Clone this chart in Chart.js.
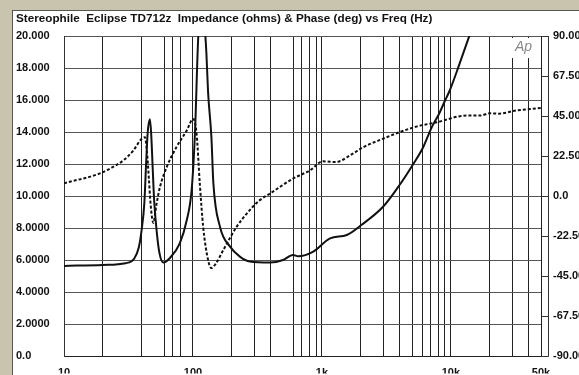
<!DOCTYPE html>
<html>
<head>
<meta charset="utf-8">
<script src="https://cdn.jsdelivr.net/npm/chart.js@4.4.1/dist/chart.umd.min.js"></script>
<style>
  html, body { margin: 0; padding: 0; background: #c8c4ae; }
  #wrap { position: relative; width: 579px; height: 375px; overflow: hidden; }
  #panel { position: absolute; left: 12px; top: 10px; width: 620px; height: 420px;
           background: #fff; border-left: 1px solid #555; border-top: 1px solid #555; }
  #meinChart { position: absolute; left: 0; top: 0; }
</style>
</head>
<body>
<div id="wrap">
  <div id="panel"></div>
  <canvas id="meinChart" width="579" height="375"></canvas>
</div>
<script>
// impedance (ohms), solid line
const impFreq = [10, 20, 30, 35, 38, 40, 42, 43.2, 44.5, 46.4, 47.5, 48.7, 50, 52.5, 55, 58.8,
  66, 79, 89.5, 97.7, 103.6, 110, 117, 124, 127, 131, 139, 144, 162, 194, 231, 276, 396,
  500, 597, 655, 857, 1156, 1560, 2020, 2980, 4000, 5100, 6100, 7100, 8050, 9000, 9800,
  11600, 13900, 16000, 20000];
const impOhms = [5.65, 5.71, 5.82, 6.1, 6.8, 7.9, 9.6, 11.8, 13.9, 14.8, 13.8, 11.8, 9.75, 7.7, 6.45, 5.86,
  6.13, 7.06, 8.5, 10.4, 13.9, 20.0, 22.0, 20.3, 19.0, 16.5, 13.7, 10.8, 8.1, 6.85, 6.23, 5.92, 5.86,
  6.02, 6.33, 6.25, 6.54, 7.37, 7.58, 8.2, 9.34, 10.7, 12.0, 13.06, 14.3, 15.1, 15.96, 16.6,
  18.2, 20.0, 21.3, 23.5];

// phase (deg), dotted line
const phaseFreq = [10, 18.8, 22.7, 28.8, 34.5, 40, 42.4, 44, 45.5, 47, 49.3, 52, 55.5, 62.6, 74.5,
  89.5, 100.4, 106.7, 113, 120, 131, 139, 150, 172, 218, 276, 330, 396, 597, 806, 1020, 1290,
  1650, 2100, 2980, 4000, 5400, 7800, 13200, 16800, 20000, 23600, 31900, 50000];
const phaseDeg = [7.3, 12.7, 15.5, 20.1, 25.7, 32.3, 33.2, 25, 10, -5, -15, -5, 5.2, 16.4, 27.6,
  36.9, 43.4, 35, 7.1, -17.2, -35.8, -40.4, -38, -30.2, -17.2, -7.8, -2.2, 1.5, 9.9, 14.5, 19.6, 19.2,
  22.9, 27.6, 32.3, 36, 39.1, 41.6, 45.3, 45.3, 46.6, 46.4, 48.1, 49.6];

// axes
const gridFreqs = [10, 20, 40, 60, 70, 80, 100, 200, 300, 400, 600, 700, 800, 900, 1000,
  2000, 3000, 4000, 5000, 6000, 7000, 8000, 9000, 10000, 20000, 30000, 40000, 50000];
const freqLabels = { 10: '10', 100: '100', 1000: '1k', 10000: '10k', 50000: '50k' };
const ohmLabels = ['0.0', '2.0000', '4.0000', '6.0000', '8.0000', '10.000', '12.000',
  '14.000', '16.000', '18.000', '20.000'];
const phaseTicks = [-90, -67.5, -45, -22.5, 0, 22.5, 45, 67.5, 90];
const phaseLabels = ['-90.00', '-67.50', '-45.00', '-22.50', '0.0', '22.50', '45.00', '67.50', '90.00'];

const titleText = 'Stereophile  Eclipse TD712z  Impedance (ohms) & Phase (deg) vs Freq (Hz)';
const labelFont = { family: 'Liberation Sans, Arial, sans-serif', size: 11, weight: 'bold' };

// right axis line with inward ticks, plus the Ap mark
const decor = {
  id: 'decor',
  afterDraw(chart) {
    const ctx = chart.ctx;
    const a = chart.chartArea;
    const y1 = chart.scales.y1;
    const ax = a.right + 7.5;
    ctx.save();
    ctx.strokeStyle = '#333';
    ctx.lineWidth = 1;
    ctx.beginPath();
    ctx.moveTo(ax, a.top); ctx.lineTo(ax, a.bottom);
    ctx.moveTo(a.right, Math.round(a.top) + 0.5); ctx.lineTo(ax, Math.round(a.top) + 0.5);
    ctx.moveTo(a.right, Math.round(a.bottom) + 0.5); ctx.lineTo(ax, Math.round(a.bottom) + 0.5);
    phaseTicks.forEach(function (v) {
      const py = Math.round(y1.getPixelForValue(v)) + 0.5;
      ctx.moveTo(a.right + 1, py); ctx.lineTo(ax, py);
    });
    ctx.stroke();
    // Ap logo
    ctx.fillStyle = '#fff';
    ctx.fillRect(a.right - 36, a.top + 2, 30, 20);
    ctx.fillStyle = '#888';
    ctx.font = 'italic 14px Liberation Sans, Arial, sans-serif';
    ctx.textBaseline = 'top';
    ctx.fillText('Ap', a.right - 26, a.top + 4);
    ctx.restore();
  }
};

const config = {
  type: 'line',
  data: {
    datasets: [{
      label: 'Impedance',
      data: impFreq.map(function (f, i) { return { x: f, y: impOhms[i] }; }),
      yAxisID: 'y',
      borderColor: '#111',
      borderWidth: 2,
      pointRadius: 0,
      cubicInterpolationMode: 'monotone'
    }, {
      label: 'Phase',
      data: phaseFreq.map(function (f, i) { return { x: f, y: phaseDeg[i] }; }),
      yAxisID: 'y1',
      borderColor: '#111',
      borderWidth: 2,
      borderDash: [3, 2],
      pointRadius: 0,
      cubicInterpolationMode: 'monotone'
    }]
  },
  options: {
    responsive: false,
    animation: false,
    layout: { padding: { left: 16, right: 0, top: 12, bottom: 0 } },
    plugins: {
      legend: { display: false },
      tooltip: { enabled: false },
      title: {
        display: true,
        text: titleText,
        align: 'start',
        color: '#111',
        font: { family: 'Liberation Sans, Arial, sans-serif', size: 11.7, weight: 'bold' },
        padding: { top: 0, bottom: 10 }
      }
    },
    scales: {
      x: {
        type: 'logarithmic',
        min: 10,
        max: 50000,
        afterBuildTicks: function (scale) {
          scale.ticks = gridFreqs.map(function (v) { return { value: v }; });
        },
        afterFit: function (scale) { scale.height = 17; },
        ticks: {
          autoSkip: false,
          maxRotation: 0,
          padding: 10,
          color: '#111',
          font: labelFont,
          callback: function (v) { return freqLabels[v] || ''; }
        },
        grid: { color: '#222', drawTicks: false },
        border: { color: '#222' }
      },
      y: {
        position: 'left',
        min: 0,
        max: 20,
        ticks: {
          stepSize: 2,
          crossAlign: 'far',
          color: '#111',
          font: labelFont,
          callback: function (v, i) { return ohmLabels[i]; }
        },
        afterFit: function (scale) { scale.width = 48; },
        grid: { color: '#555', drawTicks: false },
        border: { color: '#333' }
      },
      y1: {
        position: 'right',
        min: -90,
        max: 90,
        afterBuildTicks: function (scale) {
          scale.ticks = phaseTicks.map(function (v) { return { value: v }; });
        },
        afterFit: function (scale) { scale.width = 38; },
        ticks: {
          padding: 12,
          color: '#111',
          font: labelFont,
          callback: function (v, i) { return phaseLabels[i]; }
        },
        grid: { drawOnChartArea: false, drawTicks: false },
        border: { display: false }
      }
    }
  },
  plugins: [decor]
};

const myChart = new Chart(document.getElementById('meinChart'), config);
</script>
</body>
</html>
